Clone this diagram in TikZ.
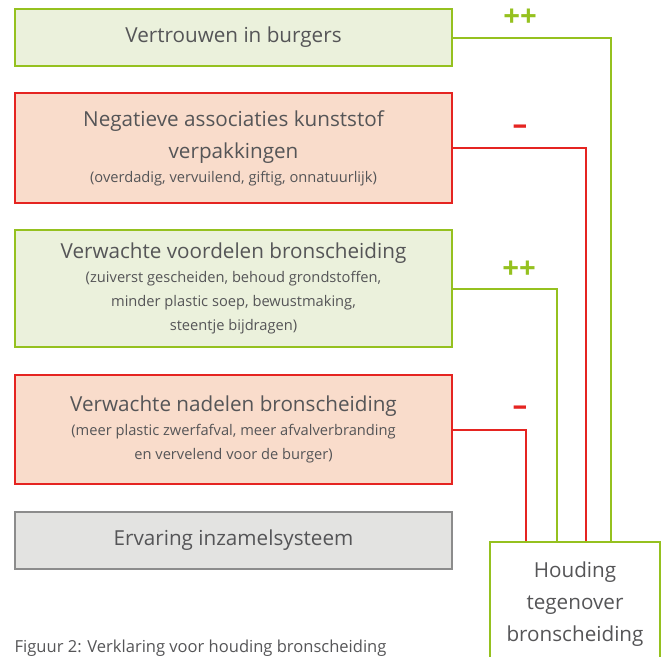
\documentclass[tikz,border=0pt]{standalone}
\usepackage{fontspec}
\setsansfont{Open Sans}
\usepackage{xcolor}
\usepackage{tikz}
\usetikzlibrary{positioning}

\definecolor{txtgray}{HTML}{555557}
\definecolor{posgreen}{HTML}{95C11F}
\definecolor{posfill}{HTML}{EBF1DC}
\definecolor{negred}{HTML}{E52421}
\definecolor{negfill}{HTML}{F9DCCB}
\definecolor{neutgray}{HTML}{8C8C8C}
\definecolor{neutfill}{HTML}{E3E3E1}
\newcommand{\subtxt}{\fontsize{11}{18}\selectfont}

\begin{document}
\begin{tikzpicture}[x=0.75pt, y=-0.75pt, font=\sffamily, text=txtgray,
	factor/.style={draw, line width=1.5pt, anchor=north west, minimum width=327.75pt, align=center, font=\sffamily\fontsize{15.5}{24}\selectfont},
	posbox/.style={factor, draw=posgreen, fill=posfill},
	negbox/.style={factor, draw=negred, fill=negfill},
	posline/.style={draw=posgreen, line width=1.5pt},
	negline/.style={draw=negred, line width=1.5pt},
	sign/.style={font=\sffamily\bfseries\fontsize{22}{22}\selectfont}]
		\useasboundingbox (0,0) rectangle (665,657);
		\node[posbox, minimum height=42.75pt] (trust) at (14,8) {Vertrouwen in burgers};
		\node[negbox, minimum height=82.5pt] (assoc) at (14,92) {Negatieve associaties kunststof\\verpakkingen\\[-6pt]\subtxt(overdadig, vervuilend, giftig, onnatuurlijk)};
		\node[posbox, minimum height=87.75pt] (gain) at (14,229) {Verwachte voordelen bronscheiding\\[-6pt]\subtxt(zuiverst gescheiden, behoud grondstoffen,\\[-6pt]\subtxt minder plastic soep, bewustmaking,\\[-6pt]\subtxt steentje bijdragen)};
		\node[negbox, minimum height=81.75pt] (loss) at (14,374) {Verwachte nadelen bronscheiding\\[-6pt]\subtxt(meer plastic zwerfafval, meer afvalverbranding\\[-6pt]\subtxt en vervelend voor de burger)};
		\node[factor, draw=neutgray, fill=neutfill, minimum height=42.75pt] (exper) at (14,511) {Ervaring inzamelsysteem};
		\node[draw=posgreen, line width=1.5pt, anchor=north, minimum width=127.5pt, minimum height=93pt, align=center, font=\sffamily\fontsize{15.5}{24}\selectfont] (attit) at (575,541) {Houding\\tegenover\\bronscheiding};
		\node[anchor=west, font=\sffamily\fontsize{12.4}{12}\selectfont] (caption) at (10,648) {Figuur 2: Verklaring voor houding bronscheiding};
		% connectors
		\draw[posline] (trust.east) -| ([xshift=27pt]attit.north);
		\draw[negline] (assoc.east) -| ([xshift=8.25pt]attit.north);
		\draw[posline] (gain.east) -| ([xshift=-13.5pt]attit.north);
		\draw[negline] (loss.east) -| ([xshift=-36.75pt]attit.north);
		\node[sign, text=posgreen] (signA) at (520,18) {++};
		\node[sign, text=negred] (signB) at (520,130) {--};
		\node[sign, text=posgreen] (signC) at (519,270) {++};
		\node[sign, text=negred] (signD) at (520,411) {--};
	\end{tikzpicture}
\end{document}
